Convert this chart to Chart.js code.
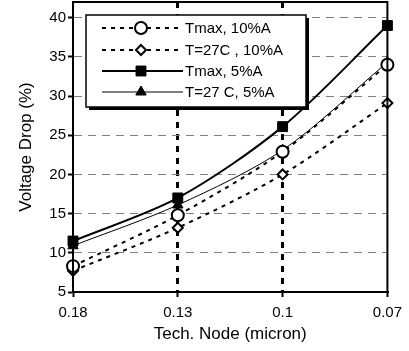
<!DOCTYPE html>
<html>
<head>
<meta charset="utf-8">
<script src="https://cdn.jsdelivr.net/npm/chart.js@4/dist/chart.umd.min.js"></script>
<style>
  html, body { margin: 0; padding: 0; background: #fff; }
  #wrap { width: 409px; height: 351px; }
</style>
</head>
<body>
<div id="wrap"><canvas id="chart" width="409" height="351"></canvas></div>
<script>
// data
const nodes = ["0.18", "0.13", "0.1", "0.07"];
const tmax10 = [8.3, 14.8, 22.9, 34.0];
const t27_10 = [7.7, 13.2, 20.0, 29.1];
const tmax5 = [11.5, 17.0, 26.1, 39.0];
const t27_5 = [10.9, 16.1, 23.1, 34.3];
const seriesNames = ["Tmax, 10%A", "T=27C , 10%A", "Tmax, 5%A", "T=27 C, 5%A"];

const FONT = "'Liberation Sans', Arial, sans-serif";

// box round the plot area + legend box in the upper left
const framePlugin = {
  id: "frame",
  afterDatasetsDraw(chart) {
    const ctx = chart.ctx;
    const a = chart.chartArea;
    ctx.save();
    ctx.strokeStyle = "#000";
    ctx.lineWidth = 2;
    ctx.setLineDash([]);
    ctx.strokeRect(a.left, a.top, a.right - a.left, a.bottom - a.top);

    // legend
    const bx = 86, by = 15, bw = 220, bh = 92;
    ctx.fillStyle = "#000";
    ctx.fillRect(bx + 3, by + 3, bw, bh);
    ctx.fillStyle = "#fff";
    ctx.fillRect(bx, by, bw, bh);
    ctx.lineWidth = 1.5;
    ctx.strokeRect(bx, by, bw, bh);

    const rows = [28, 50, 71, 92];
    chart.data.datasets.forEach((ds, i) => {
      const y = rows[i];
      ctx.save();
      ctx.strokeStyle = "#000";
      ctx.lineWidth = ds.borderWidth;
      ctx.setLineDash(ds.borderDash || []);
      ctx.beginPath();
      ctx.moveTo(102, y);
      ctx.lineTo(183, y);
      ctx.stroke();
      ctx.setLineDash([]);
      ctx.fillStyle = ds.pointBackgroundColor;
      ctx.strokeStyle = "#000";
      ctx.lineWidth = ds.pointBorderWidth;
      Chart.helpers.drawPoint(ctx, {
        pointStyle: ds.pointStyle,
        radius: ds.pointRadius,
        rotation: 0,
        borderWidth: ds.pointBorderWidth
      }, 141, y);
      ctx.restore();
      ctx.fillStyle = "#000";
      ctx.font = "15px " + FONT;
      ctx.textBaseline = "middle";
      ctx.textAlign = "left";
      ctx.fillText(ds.label, 185, y + 1);
    });
    ctx.restore();
  }
};

const ctx = document.getElementById("chart");

new Chart(ctx, {
  type: "line",
  data: {
    labels: nodes,
    datasets: [
      {
        label: seriesNames[0],
        data: tmax10,
        borderColor: "#000",
        borderWidth: 2,
        borderDash: [4, 5],
        pointStyle: "circle",
        pointRadius: 6,
        pointBackgroundColor: "#fff",
        pointBorderColor: "#000",
        pointBorderWidth: 2,
      },
      {
        label: seriesNames[1],
        data: t27_10,
        borderColor: "#000",
        borderWidth: 2,
        borderDash: [4, 5],
        pointStyle: "rectRot",
        pointRadius: 5,
        pointBackgroundColor: "#fff",
        pointBorderColor: "#000",
        pointBorderWidth: 2,
      },
      {
        label: seriesNames[2],
        data: tmax5,
        borderColor: "#000",
        borderWidth: 2,
        pointStyle: "rect",
        pointRadius: 7,
        pointBackgroundColor: "#000",
        pointBorderColor: "#000",
        pointBorderWidth: 1,
      },
      {
        label: seriesNames[3],
        data: t27_5,
        borderColor: "#000",
        borderWidth: 1,
        pointStyle: "triangle",
        pointRadius: 6,
        pointBackgroundColor: "#000",
        pointBorderColor: "#000",
        pointBorderWidth: 1,
      },
    ],
  },
  options: {
    responsive: false,
    animation: false,
    layout: { autoPadding: false, padding: { left: 0, right: 21, top: 2, bottom: 0 } },
    elements: { line: { tension: 0.3, fill: false } },
    plugins: {
      legend: { display: false },
      tooltip: { enabled: false },
    },
    scales: {
      x: {
        type: "category",
        offset: false,
        afterFit: (scale) => { scale.height = 59; },
        grid: {
          color: (c) => (c.index === 1 || c.index === 2) ? "#000" : "rgba(0,0,0,0)",
          lineWidth: 3,
          tickColor: "#000",
          tickWidth: 2,
          tickLength: 5,
        },
        border: { color: "#000", width: 2, dash: [6, 6] },
        ticks: { color: "#000", font: { family: FONT, size: 15 }, padding: 7, maxRotation: 0 },
        title: {
          display: true,
          text: "Tech. Node (micron)",
          color: "#000",
          font: { family: FONT, size: 17 },
          padding: { top: 0, bottom: 6 },
        },
      },
      y: {
        min: 5,
        max: 42,
        afterFit: (scale) => {
          scale.width = 73;
          scale.paddingTop = 0;
          scale.paddingBottom = 0;
        },
        grid: {
          color: (c) => (c.tick && c.tick.value > 5 && c.tick.value < 42) ? "#808080" : "rgba(0,0,0,0)",
          lineWidth: 1,
          tickColor: "#000",
          tickWidth: 2,
          tickLength: 5,
        },
        border: { color: "#000", width: 2, dash: [8, 6] },
        ticks: {
          stepSize: 5,
          includeBounds: false,
          autoSkip: false,
          color: "#000",
          font: { family: FONT, size: 15 },
          padding: 2,
        },
        title: {
          display: true,
          text: "Voltage Drop (%)",
          color: "#000",
          font: { family: FONT, size: 17 },
          padding: { top: 16, bottom: 0 },
        },
      },
    },
  },
  plugins: [framePlugin],
});
</script>
</body>
</html>
